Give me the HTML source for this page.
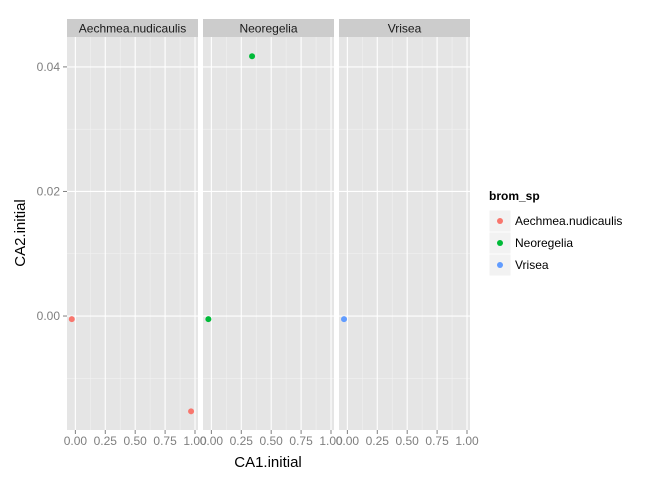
<!DOCTYPE html>
<html><head><meta charset="utf-8"><style>body{margin:0;background:#fff}svg{font-family:"Liberation Sans",sans-serif}</style></head>
<body>
<svg id="c" width="672" height="480"></svg>
<script>
const panels=["Aechmea.nudicaulis","Neoregelia","Vrisea"];
const colors=["#F8766D","#00BA38","#619CFF"];
const ptGroup=[0,0,1,1,2];
const ptX=[-0.03,0.967,-0.025,0.34,-0.028];
const ptY=[-0.0005,-0.0153,-0.0005,0.0417,-0.0005];
const xTicks=[0,0.25,0.5,0.75,1];
const xTickLabels=["0.00","0.25","0.50","0.75","1.00"];
const yTicks=[0,0.02,0.04];
const yTickLabels=["0.00","0.02","0.04"];
const svg=document.getElementById('c');
const NS="http://www.w3.org/2000/svg";
function mk(t,a,p){const e=document.createElementNS(NS,t);for(const k in a)e.setAttribute(k,a[k]);(p||svg).appendChild(e);return e;}
const panelLeft=[67,203,339],pw=131,pTop=37,pBot=430;
const xMin=-0.07,xMax=1.025,yMin=-0.0183,yMax=0.0448;
const sx=(p,v)=>panelLeft[p]+(v-xMin)/(xMax-xMin)*pw;
const sy=v=>pBot-(v-yMin)/(yMax-yMin)*(pBot-pTop);
panels.forEach((name,p)=>{
  const g=mk('g',{});
  
  
  mk('rect',{x:panelLeft[p],y:pTop,width:pw,height:pBot-pTop,fill:'#E5E5E5'},g);
  for(let i=0;i<xTicks.length-1;i++){const x=sx(p,(xTicks[i]+xTicks[i+1])/2);mk('line',{x1:x,x2:x,y1:pTop,y2:pBot,stroke:'#F2F2F2','stroke-width':0.6},g);}
  for(let i=0;i<yTicks.length-1;i++){const y=sy((yTicks[i]+yTicks[i+1])/2);mk('line',{x1:panelLeft[p],x2:panelLeft[p]+pw,y1:y,y2:y,stroke:'#F2F2F2','stroke-width':0.6},g);}
  [-0.01].forEach(v=>{const y=sy(v);mk('line',{x1:panelLeft[p],x2:panelLeft[p]+pw,y1:y,y2:y,stroke:'#F2F2F2','stroke-width':0.6},g);});
  xTicks.forEach(v=>{const x=sx(p,v);mk('line',{x1:x,x2:x,y1:pTop,y2:pBot,stroke:'#fff','stroke-width':1.1},g);});
  yTicks.forEach(v=>{const y=sy(v);mk('line',{x1:panelLeft[p],x2:panelLeft[p]+pw,y1:y,y2:y,stroke:'#fff','stroke-width':1.1},g);});
  const s=mk('rect',{x:panelLeft[p],y:19,width:pw,height:18,fill:'#CCCCCC'});
  
  
  const st=mk('text',{x:panelLeft[p]+pw/2,y:32.5,'text-anchor':'middle','font-size':12,fill:'#1a1a1a'});st.textContent=name;
  
  
  xTicks.forEach((v,i)=>{const x=sx(p,v);mk('line',{x1:x,x2:x,y1:pBot,y2:pBot+4,stroke:'#7f7f7f'});
    const t=mk('text',{x:x,y:pBot+15,'text-anchor':'middle','font-size':12,fill:'#7f7f7f'});t.textContent=xTickLabels[i];
    
    });
});
yTicks.forEach((v,i)=>{const y=sy(v);mk('line',{x1:63,x2:67,y1:y,y2:y,stroke:'#7f7f7f'});
  const t=mk('text',{x:60,y:y+4,'text-anchor':'end','font-size':12,fill:'#7f7f7f'});t.textContent=yTickLabels[i];
  
  });
ptX.forEach((v,i)=>{const g=ptGroup[i];const c=mk('circle',{cx:sx(g,v),cy:sy(ptY[i]),r:3,fill:colors[g]});
  
  });
const xt=mk('text',{x:268,y:467,'text-anchor':'middle','font-size':15,fill:'#000'});xt.textContent='CA1.initial';


const yt=mk('text',{x:0,y:0,'text-anchor':'middle','font-size':15,fill:'#000',transform:'translate(25,233) rotate(-90)'});yt.textContent='CA2.initial';


const lt=mk('text',{x:489,y:200,'font-size':12,'font-weight':'bold',fill:'#000'});lt.textContent='brom_sp';


panels.forEach((n,i)=>{const y=210+i*22;const g=mk('g',{});
  
  
  mk('rect',{x:489,y:y,width:22,height:22,fill:'#F2F2F2',stroke:'#fff'},g);
  mk('circle',{cx:500,cy:y+11,r:3,fill:colors[i]},g);
  const t=mk('text',{x:515,y:y+15,'font-size':12,fill:'#000'},g);t.textContent=n;});
</script>
</body></html>
